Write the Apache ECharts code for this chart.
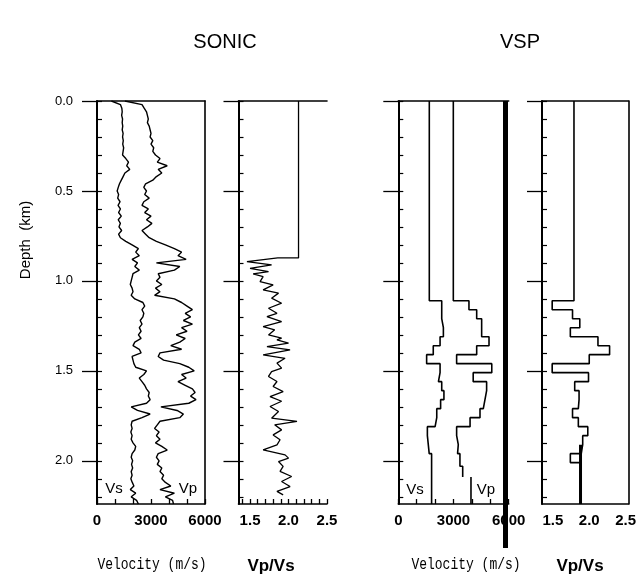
<!DOCTYPE html>
<html><head><meta charset="utf-8">
<script src="https://cdn.jsdelivr.net/npm/echarts@6/dist/echarts.min.js"></script>
<style>html,body{margin:0;padding:0;background:#fff}#c{width:639px;height:578px}</style>
</head><body><div id="c"></div>
<script>
// ---------- DATA ----------
const sonicDepth = [
0,0.02,0.04,0.06,0.08,0.10,0.12,0.14,0.16,0.18,
0.20,0.22,0.24,0.26,0.28,0.30,0.32,0.34,0.36,0.38,
0.40,0.42,0.44,0.46,0.48,0.50,0.52,0.54,0.56,0.58,
0.60,0.62,0.64,0.66,0.68,0.70,0.72,0.74,0.76,0.78,
0.80,0.82,0.84,0.86,0.88,0.90,0.92,0.94,0.96,0.98,
1.00,1.02,1.04,1.06,1.08,1.10,1.12,1.14,1.16,1.18,
1.20,1.22,1.24,1.26,1.28,1.30,1.32,1.34,1.36,1.38,
1.40,1.42,1.44,1.46,1.48,1.50,1.52,1.54,1.56,1.58,
1.60,1.62,1.64,1.66,1.68,1.70,1.72,1.74,1.76,1.78,
1.80,1.82,1.84,1.86,1.88,1.90,1.92,1.94,1.96,1.98,
2.00,2.02,2.04,2.06,2.08,2.10,2.12,2.14,2.16,2.18,
2.20,2.22,2.24];
const vsSonic = [
800,1300,1380,1400,1370,1420,1400,1430,1400,1450,
1420,1460,1430,1480,1450,1420,1600,1750,1650,1820,
1550,1450,1350,1250,1180,1120,1200,1150,1280,1170,
1300,1200,1350,1180,1300,1220,1370,1200,1300,1600,
1950,2300,2150,2350,1950,2250,2100,2350,2000,1950,
1900,1850,1950,2000,1900,2100,2550,2650,2500,2600,
2550,2400,2500,2350,2450,2300,2450,2100,2000,2350,
2450,1950,2000,2050,2150,2750,2600,2350,2500,2650,
2750,2900,2850,2950,2750,1900,2250,2950,2500,1950,
1900,1950,1880,1950,1900,2000,2150,2100,1950,1900,
1980,1920,1980,1900,1950,1880,1960,2050,1850,2150,
1900,2200,2300];
const vpSonic = [
1550,2500,2620,2750,2800,2850,2800,2900,2950,3000,
2950,3100,3000,3150,3100,3250,3500,3350,3900,3400,
3600,3300,3100,2700,2600,2750,2650,2900,2600,2500,
2850,2650,3000,2750,3050,2800,2500,2700,2900,3300,
3800,4300,4700,4500,4950,3300,4600,4300,3400,3500,
3300,3600,3250,3500,3200,4300,4700,5000,5300,4900,
5200,4800,5300,4700,5000,4400,4900,4600,4100,4700,
3500,3400,3700,4600,5100,5400,4700,4950,4500,4900,
5300,5450,5200,5500,5100,3550,4450,4800,4600,3500,
3350,3200,3450,3300,3500,3250,3600,3900,3400,3300,
3450,3350,3600,3500,3700,3600,3800,4100,3500,4300,
3800,4200,4250];
const ratioSonicDepth = [0,0.872,0.872,0.893,0.911,0.93,0.948,0.961,0.976,1.004,1.022,1.05,1.068,1.096,1.124,1.152,1.18,1.198,1.226,1.254,1.272,1.30,1.318,
1.328,1.346,1.365,1.383,1.411,1.43,1.457,1.485,1.504,1.531,1.559,1.587,1.615,1.643,1.669,1.698,1.726,1.763,1.781,1.80,1.828,1.856,1.883,1.911,1.939,1.967,1.985,2.004,2.031,2.059,2.087,2.115,2.143,2.17,2.189];
const ratioSonic = [2.13,2.13,1.86,1.46,1.78,1.50,1.74,1.54,1.67,1.63,1.80,1.67,1.87,1.78,1.91,1.74,1.85,1.72,1.91,1.67,1.82,1.74,1.91,
1.85,2.00,1.72,2.02,1.67,1.955,1.85,1.91,1.78,1.74,1.85,1.80,1.93,1.76,1.91,1.76,1.87,1.78,2.11,1.82,1.91,1.80,1.89,1.85,1.67,1.955,2.00,1.87,1.93,1.89,2.04,1.91,2.02,1.85,1.93];

const vspBounds = [0,1.11,1.16,1.21,1.26,1.31,1.36,1.41,1.46,1.51,1.56,1.61,1.66,1.71,1.76,1.81,1.86,1.91,1.96,2.01,2.24];
const vsVsp = [1685,2360,2360,2450,2450,2270,1900,1540,2270,2180,2360,2480,2300,2090,2000,1580,1630,1680,1810,1810];
const vpVspBounds = [0,1.11,1.16,1.21,1.26,1.31,1.36,1.41,1.46,1.51,1.56,1.61,1.66,1.71,1.76,1.81,1.86,1.91,1.96,2.03,2.09];
const vpVsp = [2990,3840,4260,4530,4530,4930,4260,3170,5080,4070,4800,4710,4620,4440,3900,3170,3260,3220,3350,3500];
const vpVspTailDepth = [2.09,2.24];
const vpVspTail = [3950,3950];
const ratioVsp = [1.79,1.49,1.77,1.87,1.74,2.12,2.28,2.00,1.49,1.99,1.80,1.86,1.85,1.77,1.85,1.98,1.91,1.89,1.74,1.88];
const ratioVspThickDepth = [1.91,2.24];
const ratioVspThick = [1.88,1.88];

const depthMajorTicks = [0,0.5,1.0,1.5,2.0];
const depthMinorTicks = [0,0.1,0.2,0.3,0.4,0.5,0.6,0.7,0.8,0.9,1.0,1.1,1.2,1.3,1.4,1.5,1.6,1.7,1.8,1.9,2.0,2.1,2.2];
const velTicks = [0,1000,2000,3000,4000,5000,6000];
const velLabels = [0,3000,6000];
const ratioTicks = [1.4,1.5,1.6,1.7,1.8,1.9,2.0,2.1,2.2,2.3,2.4,2.5];
const ratioLabels = [1.5,2.0,2.5];

// ---------- BUILD ----------
const pair = (xs, ds) => xs.map((v,i)=>[v, ds[i]]);
function steps(bounds, vals){ const out=[]; for(let i=0;i<vals.length;i++){ out.push([vals[i],bounds[i]]); out.push([vals[i],bounds[i+1]]);} return out; }

const TOP=101, H=403, DMAX=2.24;
const panels = [
  {left:97,   width:108,   min:0,    max:6000, ticks:velTicks,   labels:velLabels,   tickShow:true,  right:true},
  {left:238.5,width:88.5,  min:1.35, max:2.5,  ticks:ratioTicks, labels:ratioLabels, tickShow:true,  right:false},
  {left:398.3,width:110.4, min:0,    max:6000, ticks:velTicks,   labels:velLabels,   tickShow:true,  right:false},
  {left:542,  width:88,    min:1.35, max:2.54, ticks:ratioTicks, labels:ratioLabels, tickShow:false, right:true}
];
const grid=[], xAxis=[], yAxis=[];
const lab = {fontFamily:'Liberation Sans', color:'#000'};
panels.forEach((p,g)=>{
  grid.push({left:p.left, top:TOP, width:p.width, height:H, containLabel:false});
  xAxis.push({type:'value', gridIndex:g, position:'bottom', min:p.min, max:p.max,
    axisLine:{show:true, onZero:false, lineStyle:{color:'#000', width:1.6}},
    axisTick:{show:p.tickShow, inside:true, length:5, customValues:p.ticks, lineStyle:{color:'#000', width:1.3}},
    axisLabel:{show:true, customValues:p.labels, margin:9, fontSize:15, fontWeight:'bold', ...lab,
      formatter:(v)=> p.max>100 ? String(Math.round(v)) : v.toFixed(1)},
    splitLine:{show:false}});
  xAxis.push({type:'value', gridIndex:g, position:'top', min:p.min, max:p.max,
    axisLine:{show:true, onZero:false, lineStyle:{color:'#000', width:1.6}},
    axisTick:{show:false}, axisLabel:{show:false}, splitLine:{show:false}});
  yAxis.push({type:'value', gridIndex:g, inverse:true, min:0, max:DMAX, position:'left',
    axisLine:{show:true, onZero:false, lineStyle:{color:'#000', width:2}},
    axisTick:{show:true, inside:true, length:5, customValues:depthMinorTicks, lineStyle:{color:'#000', width:1.2}},
    axisLabel:{show:false}, splitLine:{show:false}});
  yAxis.push({type:'value', gridIndex:g, inverse:true, min:0, max:DMAX, position:'left',
    axisLine:{show:false, onZero:false},
    axisTick:{show:true, inside:false, length:15, customValues:depthMajorTicks, lineStyle:{color:'#000', width:1.3}},
    axisLabel:{show:g===0, customValues:depthMajorTicks, margin:24, fontSize:13, ...lab, formatter:(v)=>v.toFixed(1)},
    splitLine:{show:false}});
  yAxis.push({type:'value', gridIndex:g, inverse:true, min:0, max:DMAX, position:'right',
    axisLine:{show:p.right, onZero:false, lineStyle:{color:'#000', width:1.6}},
    axisTick:{show:false}, axisLabel:{show:false}, splitLine:{show:false}});
});

const ln = (g, data, w) => ({type:'line', xAxisIndex:2*g, yAxisIndex:3*g, data, showSymbol:false, symbol:'none',
  lineStyle:{color:'#000', width:w||1.4}, silent:true, animation:false, clip:true});

const series = [
  ln(0, pair(vsSonic, sonicDepth)),
  ln(0, pair(vpSonic, sonicDepth)),
  ln(1, pair(ratioSonic, ratioSonicDepth), 1.3),
  ln(2, steps(vspBounds, vsVsp), 1.6),
  ln(2, steps(vpVspBounds, vpVsp), 1.6),
  ln(2, pair(vpVspTail, vpVspTailDepth), 1.6),
  ln(3, steps(vspBounds, ratioVsp), 1.6),
  ln(3, pair(ratioVspThick, ratioVspThickDepth), 3)
];

const txt = (x,y,t,size,extra) => Object.assign({type:'text', x, y, style:Object.assign({text:t, fontSize:size, fontFamily:'Liberation Sans', fill:'#000', align:'center', verticalAlign:'middle'}, (extra&&extra.style)||{})}, (extra&&extra.el)||{});
const graphic = [
  txt(225, 42, 'SONIC', 20),
  txt(520, 42, 'VSP', 20),
  txt(26, 240, 'Depth  (km)', 15, {el:{rotation:Math.PI/2}}),
  txt(114, 489, 'Vs', 15),
  txt(188, 489, 'Vp', 15),
  txt(415, 490, 'Vs', 15),
  txt(486, 490, 'Vp', 15),
  {type:'rect', shape:{x:503, y:101, width:5, height:447}, style:{fill:'#000'}},
  txt(152, 565, 'Velocity (m/s)', 13, {style:{fontFamily:'Liberation Mono'}, el:{scaleY:1.3}}),
  txt(466, 565, 'Velocity (m/s)', 13, {style:{fontFamily:'Liberation Mono'}, el:{scaleY:1.3}}),
  txt(271, 566, 'Vp/Vs', 17, {style:{fontWeight:'bold'}}),
  txt(580, 566, 'Vp/Vs', 17, {style:{fontWeight:'bold'}})
];

const chart = echarts.init(document.getElementById('c'), null, {renderer:'canvas'});
chart.setOption({animation:false, backgroundColor:'#fff', grid, xAxis, yAxis, series, graphic});
</script>
</body></html>
